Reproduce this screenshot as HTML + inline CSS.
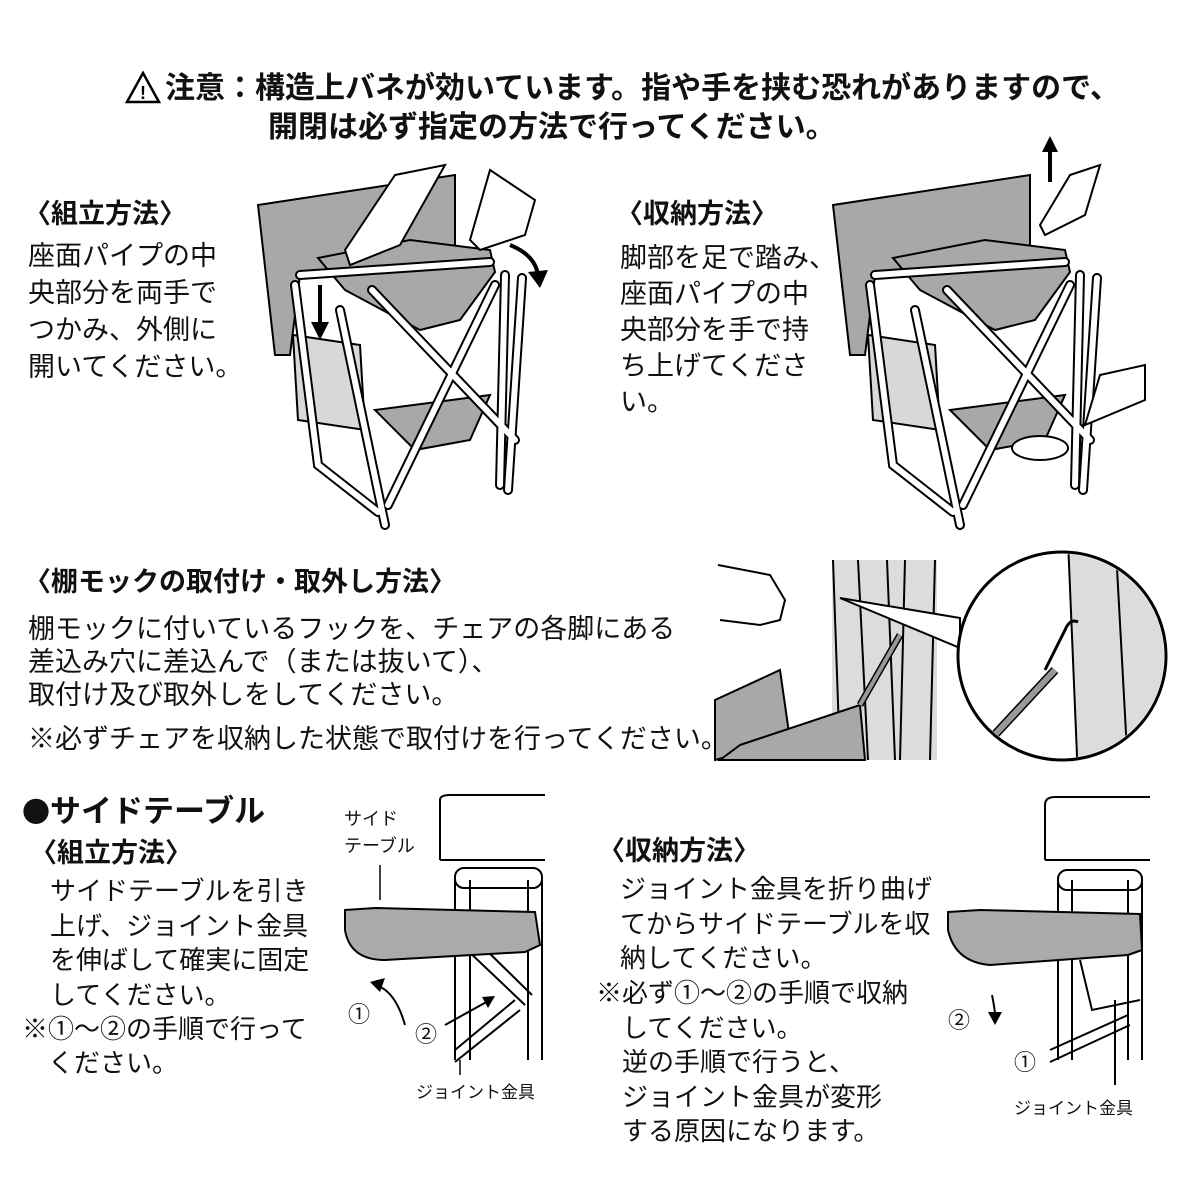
<!DOCTYPE html>
<html><head><meta charset="utf-8"><style>
body{margin:0;background:#fff;width:1200px;height:1200px;overflow:hidden;position:relative;font-family:"Liberation Sans","Noto Sans CJK JP",sans-serif;color:#111}
.t{position:absolute;white-space:nowrap;line-height:1}
.b{font-weight:bold}
svg{position:absolute;left:0;top:0}
</style></head><body>
<svg width="1200" height="1200" viewBox="0 0 1200 1200">
<defs>
<g id="chair">
 <polygon points="258,205 455,175 455,250 300,275 290,355 275,355" fill="#a8a8a8" stroke="#000" stroke-width="2"/>
 <polygon points="293,335 360,345 365,430 298,420" fill="#d8d8d8" stroke="#000" stroke-width="2"/>
 <polygon points="318,258 410,240 490,250 495,272 460,320 420,330 345,290" fill="#a8a8a8" stroke="#000" stroke-width="2"/>
 <polygon points="375,410 490,395 470,440 415,450" fill="#a8a8a8" stroke="#000" stroke-width="2"/>
 <g stroke="#000" stroke-width="10" stroke-linecap="round" fill="none">
  <path d="M295,285 L318,465 L378,512"/><path d="M340,310 L385,525"/><path d="M505,275 L500,485"/><path d="M522,278 L508,490"/>
  <path d="M372,290 L515,440"/><path d="M495,285 L388,505"/><path d="M300,275 L490,262"/>
 </g>
 <g stroke="#fff" stroke-width="6" stroke-linecap="round" fill="none">
  <path d="M295,285 L318,465 L378,512"/><path d="M340,310 L385,525"/><path d="M505,275 L500,485"/><path d="M522,278 L508,490"/>
  <path d="M372,290 L515,440"/><path d="M495,285 L388,505"/><path d="M300,275 L490,262"/>
 </g>
</g>
</defs>
<polygon points="143,73 127,102 159,102" fill="none" stroke="#000" stroke-width="2.5"/>
<text x="143" y="99" font-size="18" text-anchor="middle" font-weight="bold" font-family="Liberation Sans">!</text>
<use href="#chair"/>
<path d="M320,285 L320,330" stroke="#000" stroke-width="4"/><polygon points="311,322 329,322 320,340" fill="#000"/>
<path d="M510,245 Q535,255 538,275" stroke="#000" stroke-width="4" fill="none"/><polygon points="528,272 548,270 540,288" fill="#000"/>
<path d="M395,175 L445,165 L400,245 L350,265 L345,250 Z" fill="#fff" stroke="#000" stroke-width="2"/>
<path d="M490,170 L535,200 L525,235 L480,250 L470,240 Z" fill="#fff" stroke="#000" stroke-width="2"/>
<g transform="translate(575,0)"><use href="#chair"/></g>
<path d="M1050,182 L1050,150" stroke="#000" stroke-width="4"/><polygon points="1042,152 1058,152 1050,136" fill="#000"/>
<path d="M1070,175 L1100,165 L1085,215 L1045,235 L1040,225 Z" fill="#fff" stroke="#000" stroke-width="2"/>
<path d="M1100,375 L1145,365 L1145,400 L1085,425 Z" fill="#fff" stroke="#000" stroke-width="2"/>
<ellipse cx="1040" cy="448" rx="28" ry="12" fill="#fff" stroke="#000" stroke-width="2"/>
<rect x="832" y="560" width="105" height="200" fill="#dcdcdc"/>
<g stroke="#000" stroke-width="2"><line x1="833" y1="560" x2="840" y2="760"/><line x1="858" y1="560" x2="868" y2="760"/><line x1="887" y1="560" x2="895" y2="760"/><line x1="905" y1="560" x2="900" y2="760"/><line x1="935" y1="560" x2="930" y2="760"/></g>
<polygon points="715,700 780,670 790,740 715,760" fill="#a8a8a8" stroke="#000" stroke-width="2"/>
<polygon points="740,745 860,705 865,760 720,760" fill="#a8a8a8" stroke="#000" stroke-width="2"/>
<line x1="860" y1="705" x2="900" y2="635" stroke="#000" stroke-width="7"/><line x1="860" y1="705" x2="900" y2="635" stroke="#999" stroke-width="4"/>
<path d="M718,565 L770,575 L785,600 L780,620 L760,625 L720,620" fill="#fff" stroke="#000" stroke-width="2"/>
<path d="M840,598 L960,618 L960,648 Z" fill="#fff" stroke="#000" stroke-width="2"/>
<circle cx="1062" cy="656" r="104" fill="#fff" stroke="#000" stroke-width="3"/>
<clipPath id="cc"><circle cx="1062" cy="656" r="102"/></clipPath>
<g clip-path="url(#cc)"><polygon points="1068,540 1180,540 1180,780 1078,780" fill="#dcdcdc" stroke="#000" stroke-width="2"/><line x1="1116" y1="550" x2="1128" y2="770" stroke="#000" stroke-width="2"/>
<line x1="990" y1="740" x2="1055" y2="670" stroke="#000" stroke-width="9"/><line x1="990" y1="740" x2="1055" y2="670" stroke="#999" stroke-width="6"/>
<path d="M1045,670 Q1060,640 1065,630 Q1070,618 1078,622" fill="none" stroke="#000" stroke-width="3"/></g>
<g fill="none" stroke="#000" stroke-width="2">
<path d="M440,860 L440,800 Q440,795 450,795 L545,795"/><path d="M440,860 L545,860"/>
<path d="M455,880 L455,1060"/><path d="M470,880 L470,1060"/><path d="M528,880 L528,1060"/><path d="M542,880 L542,1060"/>
<rect x="455" y="868" width="87" height="20" rx="9"/>
<path d="M455,1050 L515,1000 M455,1062 L520,1010"/>
<path d="M465,948 L525,1005"/><path d="M478,942 L532,995"/>
</g>
<path d="M345,910 L375,908 L535,912 L540,945 L525,952 L385,960 Q350,960 345,930 Z" fill="#aaaaaa" stroke="#000" stroke-width="2"/>
<path d="M380,865 L380,900" stroke="#000" stroke-width="1.5"/>
<path d="M405,1025 Q395,990 375,985" fill="none" stroke="#000" stroke-width="2"/><polygon points="370,982 385,978 380,992" fill="#000"/>
<path d="M445,1025 L490,1000" stroke="#000" stroke-width="2"/><polygon points="495,996 482,997 488,1008" fill="#000"/>
<line x1="460" y1="1060" x2="460" y2="1075" stroke="#000" stroke-width="1.5"/>
<g fill="none" stroke="#000" stroke-width="2">
<path d="M1045,860 L1045,805 Q1045,797 1055,797 L1150,797"/><path d="M1045,860 L1150,860"/>
<path d="M1058,880 L1058,1060"/><path d="M1072,880 L1072,1060"/><path d="M1128,880 L1128,1060"/><path d="M1142,880 L1142,1060"/>
<rect x="1058" y="870" width="84" height="20" rx="9"/>
<path d="M1050,1050 L1128,1015 M1050,1062 L1130,1025"/>
<path d="M1080,960 L1092,1010 L1140,1000"/><path d="M1115,1085 L1115,1000"/>
</g>
<path d="M948,912 L980,910 L1140,914 L1142,950 L1128,955 L990,965 Q955,962 948,930 Z" fill="#aaaaaa" stroke="#000" stroke-width="2"/>
<path d="M992,995 Q995,1010 995,1015" fill="none" stroke="#000" stroke-width="2"/><polygon points="988,1012 1002,1012 995,1025" fill="#000"/>
</svg>

<div class="t b" style="left:165px;top:74px;font-size:30px">注意：構造上バネが効いています。指や手を挟む恐れがありますので、</div>
<div class="t b" style="left:268px;top:113px;font-size:30px">開閉は必ず指定の方法で行ってください。</div>

<div class="t b" style="left:24px;top:201px;font-size:27px">〈組立方法〉</div>
<div class="t" style="left:28px;top:238px;font-size:27px;line-height:37px">座面パイプの中<br>央部分を両手で<br>つかみ、外側に<br>開いてください。</div>

<div class="t b" style="left:616px;top:201px;font-size:27px">〈収納方法〉</div>
<div class="t" style="left:620px;top:240px;font-size:27px;line-height:36px">脚部を足で踏み、<br>座面パイプの中<br>央部分を手で持<br>ち上げてくださ<br>い。</div>

<div class="t b" style="left:24px;top:569px;font-size:27px">〈棚モックの取付け・取外し方法〉</div>
<div class="t" style="left:28px;top:613px;font-size:27px;line-height:33px">棚モックに付いているフックを、チェアの各脚にある<br>差込み穴に差込んで（または抜いて）、<br>取付け及び取外しをしてください。</div>
<div class="t" style="left:28px;top:726px;font-size:27px">※必ずチェアを収納した状態で取付けを行ってください。</div>

<div class="t b" style="left:22px;top:796px;font-size:31px"><span style="font-family:'Noto Sans CJK JP',sans-serif;font-size:28px">●</span>サイドテーブル</div>
<div class="t b" style="left:30px;top:840px;font-size:27px">〈組立方法〉</div>
<div class="t" style="left:50px;top:874px;font-size:26px;line-height:34.5px">サイドテーブルを引き<br>上げ、ジョイント金具<br>を伸ばして確実に固定<br>してください。</div>
<div class="t" style="left:22px;top:1012px;font-size:26px;line-height:34px">※①～②の手順で行って<br>　ください。</div>

<div class="t" style="left:344px;top:806px;font-size:18px;line-height:27px">サイド<br>テーブル</div>
<div class="t" style="left:348px;top:1004px;font-size:22px">①</div>
<div class="t" style="left:415px;top:1024px;font-size:22px">②</div>
<div class="t" style="left:416px;top:1084px;font-size:17px">ジョイント金具</div>

<div class="t b" style="left:598px;top:838px;font-size:27px">〈収納方法〉</div>
<div class="t" style="left:620px;top:872px;font-size:26px;line-height:34.5px">ジョイント金具を折り曲げ<br>てからサイドテーブルを収<br>納してください。</div>
<div class="t" style="left:596px;top:976px;font-size:26px;line-height:34.5px">※必ず①～②の手順で収納<br>　してください。<br>　逆の手順で行うと、<br>　ジョイント金具が変形<br>　する原因になります。</div>

<div class="t" style="left:948px;top:1010px;font-size:22px">②</div>
<div class="t" style="left:1014px;top:1052px;font-size:22px">①</div>
<div class="t" style="left:1014px;top:1100px;font-size:17px">ジョイント金具</div>
</body></html>
